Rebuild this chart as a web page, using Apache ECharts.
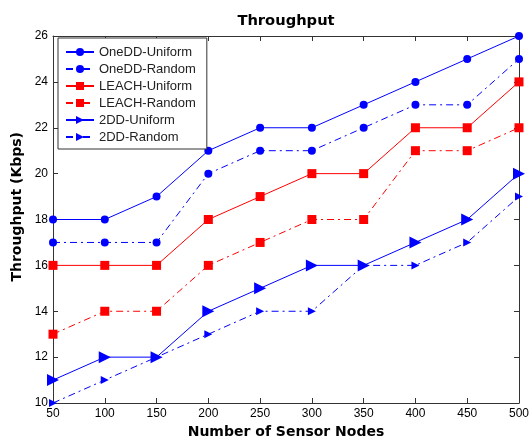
<!DOCTYPE html>
<html><head><meta charset="utf-8">
<script src="https://cdn.jsdelivr.net/npm/echarts@6/dist/echarts.min.js"></script>
<style>html,body{margin:0;padding:0;background:#fff}#c{width:532px;height:444px}</style>
</head><body><div id="c"></div>
<script>
const nodes = [50,100,150,200,250,300,350,400,450,500];
const onedUniform = [18,18,19,21,22,22,23,24,25,26];
const onedRandom  = [17,17,17,20,21,21,22,23,23,25];
const leachUniform = [16,16,16,18,19,20,20,22,22,24];
const leachRandom  = [13,14,14,16,17,18,18,21,21,22];
const dd2Uniform = [11,12,12,14,15,16,16,17,18,20];
const dd2Random  = [10,11,12,13,14,14,16,16,17,19];
const seriesNames = ['OneDD-Uniform','OneDD-Random','LEACH-Uniform','LEACH-Random','2DD-Uniform','2DD-Random'];
const yTicks = [10,12,14,16,18,20,22,24,26];

const pair = arr => nodes.map((x,i)=>[x,arr[i]]);
const dashDot = [7,4,2,4];
const FONT = 'Liberation Sans, Arial, sans-serif';
const BFONT = 'DejaVu Sans, sans-serif';
function mk(name, data, color, symbol, size, dashed, rot){
  return {name, type:'line', data:pair(data), symbol, symbolSize:size, symbolRotate:rot||0,
    lineStyle:{color, width:1, type: dashed?dashDot:'solid'},
    itemStyle:{color}, emphasis:{disabled:true}, animation:false};
}
const chart = echarts.init(document.getElementById('c'));
const axisCommon = {
  axisLine:{show:true, lineStyle:{color:'#333', width:1}},
  axisTick:{show:true, inside:true, length:5, lineStyle:{color:'#333'}},
  splitLine:{show:false}
};
chart.setOption({
  backgroundColor:'#fff',
  title:{text:'Throughput', left:281, top:9, textAlign:'center',
    textStyle:{fontFamily:BFONT, fontSize:14.7, fontWeight:'bold', color:'#000'}},
  grid:{left:53, right:12, top:36, bottom:41},
  legend:{orient:'vertical', left:58, top:38, data:seriesNames,
    backgroundColor:'#fff', borderColor:'#333', borderWidth:1,
    padding:[7,11,5,7], itemWidth:28, itemHeight:10, itemGap:3,
    textStyle:{fontFamily:FONT, fontSize:13, lineHeight:14, color:'#222'}},
  graphic:[{type:'text', left:10, top:132, rotation:Math.PI/2,
    style:{text:'Throughput (Kbps)', font:'bold 14px DejaVu Sans', fill:'#000'},
    x:10, y:283, z:10}],
  xAxis:[
    Object.assign({type:'value', min:50, max:500, interval:50, position:'bottom',
      name:'Number of Sensor Nodes', nameLocation:'middle', nameGap:22,
      nameTextStyle:{fontFamily:BFONT, fontSize:14, fontWeight:'bold', color:'#000'},
      axisLabel:{fontFamily:FONT, fontSize:12, color:'#000', margin:5}}, axisCommon),
    Object.assign({type:'value', min:50, max:500, interval:50, position:'top',
      axisLabel:{show:false}}, axisCommon)
  ],
  yAxis:[
    Object.assign({type:'value', min:10, max:26, interval:2, position:'left',
      axisLabel:{fontFamily:FONT, fontSize:12, color:'#000', margin:5,
        formatter: v => yTicks.includes(v) ? String(v) : ''}}, axisCommon),
    Object.assign({type:'value', min:10, max:26, interval:2, position:'right',
      axisLabel:{show:false}}, axisCommon)
  ],
  series:[
    mk(seriesNames[0], onedUniform, '#0000ff', 'circle', 8, false),
    mk(seriesNames[1], onedRandom, '#0000ff', 'circle', 8, true),
    mk(seriesNames[2], leachUniform, '#ff0000', 'rect', 9, false),
    mk(seriesNames[3], leachRandom, '#ff0000', 'rect', 9, true),
    mk(seriesNames[4], dd2Uniform, '#0000ff', 'triangle', 12, false, -90),
    mk(seriesNames[5], dd2Random, '#0000ff', 'triangle', 8, true, -90)
  ]
});
</script></body></html>
